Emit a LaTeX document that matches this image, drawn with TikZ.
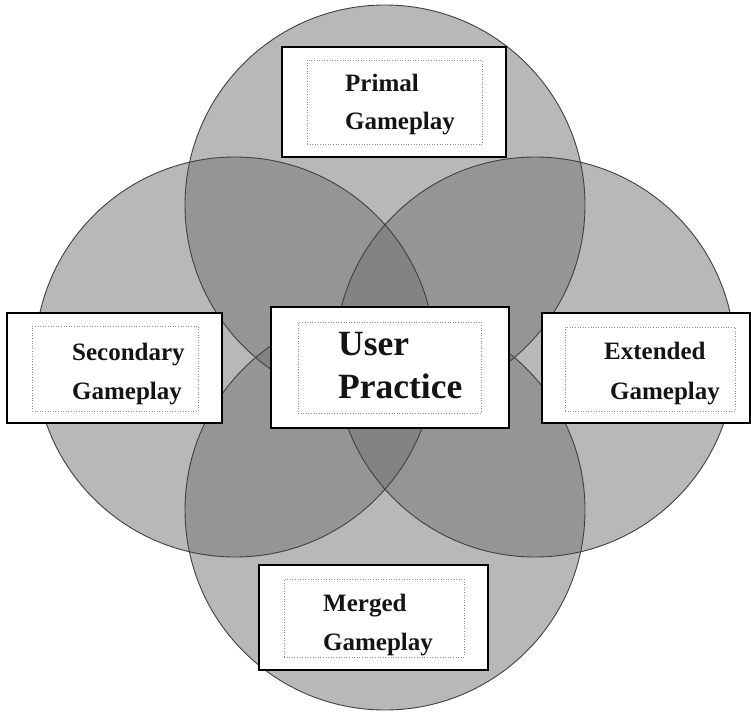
\documentclass[tikz,border=0pt]{standalone}
\usepackage{fontspec}
\setmainfont{Liberation Serif}
\begin{document}
\begin{tikzpicture}[x=1pt,y=-1pt,
  ring/.style={fill=black!55,fill opacity=0.5},
  ringline/.style={draw=black!75,line width=0.9pt},
  outerbox/.style={draw=black,line width=2.4pt,fill=white,inner sep=0pt},
  innerbox/.style={draw=black!45,dotted,line width=0.6pt,inner sep=0pt},
  lbl/.style={font=\bfseries\fontsize{25}{28}\selectfont,text=black!92,inner sep=0pt,anchor=base west},
  biglbl/.style={font=\bfseries\fontsize{35.5}{40}\selectfont,text=black!92,inner sep=0pt,anchor=base west}]
\useasboundingbox[fill=white] (0,0) rectangle (751,711);

% four overlapping circles
\coordinate (ctop) at (385,205);
\coordinate (cleft) at (235,357);
\coordinate (cright) at (535,357);
\coordinate (cbot) at (385,510);
\foreach \c in {ctop,cleft,cright,cbot}
  \fill[ring] (\c) circle [radius=200pt];
\foreach \c in {ctop,cleft,cright,cbot}
  \draw[ringline] (\c) circle [radius=200pt];

% top box
\node[outerbox,minimum width=224pt,minimum height=110pt] (topout) at (394,102) {};
\node[innerbox,minimum width=175pt,minimum height=84pt] (topin) at (394.5,102) {};
\node[lbl] (topa) at (345,92) {Primal};
\node[lbl] (topb) at (345,130) {Gameplay};

% left box
\node[outerbox,minimum width=215pt,minimum height=110pt] (leftout) at (114.5,368) {};
\node[innerbox,minimum width=166pt,minimum height=85pt] (leftin) at (115,368.5) {};
\node[lbl] (lefta) at (72,360) {Secondary};
\node[lbl] (leftb) at (72,399) {Gameplay};

% centre box
\node[outerbox,minimum width=238pt,minimum height=121pt] (midout) at (390,367.5) {};
\node[innerbox,minimum width=183pt,minimum height=91pt] (midin) at (389.5,367.5) {};
\node[biglbl] (mida) at (338,355) {User};
\node[biglbl] (midb) at (338,398) {Practice};

% right box
\node[outerbox,minimum width=208pt,minimum height=110pt] (rightout) at (646,368) {};
\node[innerbox,minimum width=170pt,minimum height=84pt] (rightin) at (650,369) {};
\node[lbl] (righta) at (604,359) {Extended};
\node[lbl] (rightb) at (610,399) {Gameplay};

% bottom box
\node[outerbox,minimum width=229pt,minimum height=105pt] (botout) at (373.5,617.5) {};
\node[innerbox,minimum width=180pt,minimum height=78pt] (botin) at (374,618) {};
\node[lbl] (bota) at (323,611) {Merged};
\node[lbl] (botb) at (323,650) {Gameplay};
\end{tikzpicture}
\end{document}
